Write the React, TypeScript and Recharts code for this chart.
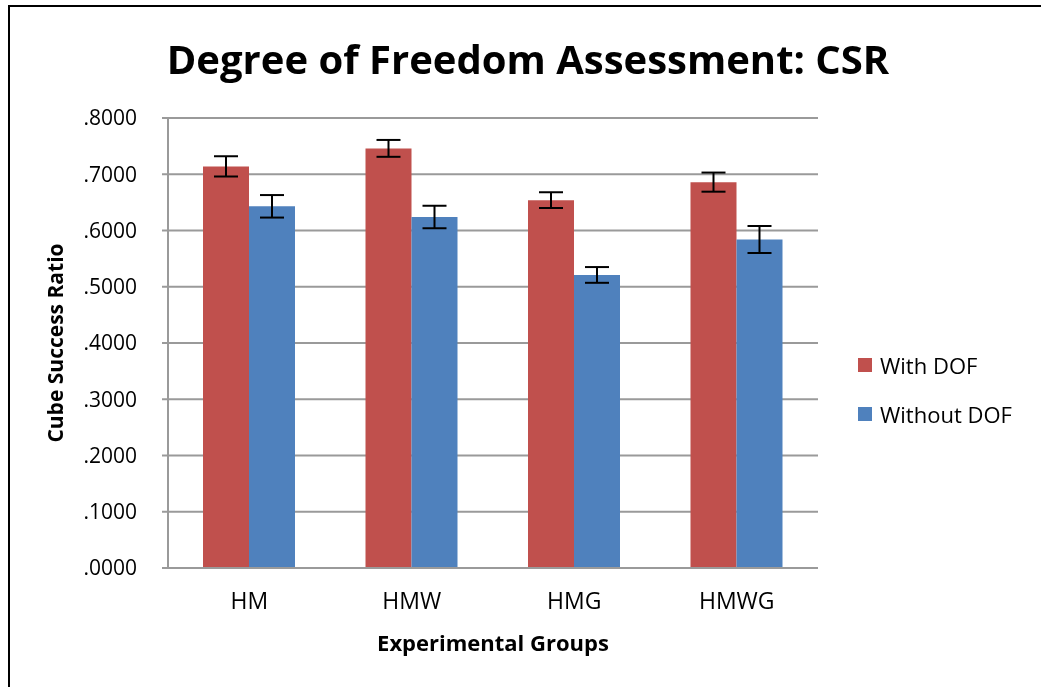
import { Bar, BarChart, CartesianGrid, ErrorBar, Legend, XAxis, YAxis } from "recharts";

const groups = ["HM", "HMW", "HMG", "HMWG"];
const withDof = [0.714, 0.746, 0.654, 0.686];
const withDofErr = [0.018, 0.015, 0.014, 0.017];
const withoutDof = [0.643, 0.624, 0.521, 0.584];
const withoutDofErr = [0.02, 0.02, 0.014, 0.024];
const yTicks = [0, 0.1, 0.2, 0.3, 0.4, 0.5, 0.6, 0.7, 0.8];

const data = groups.map((g, i) => ({
  group: g,
  withDof: withDof[i],
  withDofErr: withDofErr[i],
  withoutDof: withoutDof[i],
  withoutDofErr: withoutDofErr[i],
}));

const font = "'Open Sans', Lato, sans-serif";
const red = "#C0504D";
const blue = "#4F81BD";
const grid = "#9a9a9a";

const fmt = (v: number) => v.toFixed(4).replace(/^0/, "");

// legend drawn as plain html, placed by wrapperStyle
function LegendBox() {
  const items = [
    { label: "With DOF", color: red },
    { label: "Without DOF", color: blue },
  ];
  return (
    <div style={{ fontFamily: font, fontSize: 22, color: "#000" }}>
      {items.map((it) => (
        <div key={it.label} style={{ display: "flex", alignItems: "center", height: 49 }}>
          <span style={{ width: 14, height: 14, background: it.color, marginRight: 8 }} />
          <span>{it.label}</span>
        </div>
      ))}
    </div>
  );
}

export default function App() {
  return (
    <div
      style={{
        position: "fixed",
        left: 8,
        top: 5,
        width: 1033,
        height: 682,
        boxSizing: "border-box",
        borderTop: "2px solid #000",
        borderLeft: "2px solid #000",
        fontFamily: font,
      }}
    >
      <div
        style={{
          position: "absolute",
          left: 0,
          width: 1036,
          top: 24,
          textAlign: "center",
          fontWeight: 700,
          fontSize: 40,
          color: "#000",
        }}
      >
        Degree of Freedom Assessment: CSR
      </div>
      <BarChart
        width={1031}
        height={680}
        data={data}
        margin={{ top: 111, right: 43, bottom: 0, left: 0 }}
        barGap={0}
        barSize={46}
        style={{ position: "absolute", left: 0, top: 0 }}
      >
        <CartesianGrid vertical={false} stroke={grid} strokeWidth={2} />
        <XAxis
          dataKey="group"
          height={119}
          tickLine={false}
          axisLine={{ stroke: grid, strokeWidth: 2 }}
          tick={{ fill: "#000", fontSize: 23, fontFamily: font, dy: 17 }}
          label={{
            value: "Experimental Groups",
            position: "insideBottom",
            offset: 36,
            fill: "#000",
            fontSize: 22,
            fontWeight: 700,
            fontFamily: font,
          }}
        />
        <YAxis
          width={158}
          domain={[0, 0.8]}
          ticks={yTicks}
          tickFormatter={fmt}
          tickSize={6}
          tickMargin={25}
          tickLine={{ stroke: grid, strokeWidth: 2 }}
          axisLine={{ stroke: grid, strokeWidth: 2 }}
          tick={{ fill: "#000", fontSize: 21, fontFamily: font }}
          label={{
            value: "Cube Success Ratio",
            angle: -90,
            position: "insideLeft",
            offset: 46,
            style: { textAnchor: "middle" },
            fill: "#000",
            fontSize: 21,
            fontWeight: 700,
            fontFamily: font,
          }}
        />
        <Legend
          layout="vertical"
          align="right"
          verticalAlign="top"
          content={() => <LegendBox />}
          wrapperStyle={{ position: "absolute", left: 848, top: 333, width: 180 }}
        />
        <Bar dataKey="withDof" name="With DOF" fill={red} isAnimationActive={false}>
          <ErrorBar dataKey="withDofErr" width={12} stroke="#000" strokeWidth={2} />
        </Bar>
        <Bar dataKey="withoutDof" name="Without DOF" fill={blue} isAnimationActive={false}>
          <ErrorBar dataKey="withoutDofErr" width={12} stroke="#000" strokeWidth={2} />
        </Bar>
      </BarChart>
    </div>
  );
}
